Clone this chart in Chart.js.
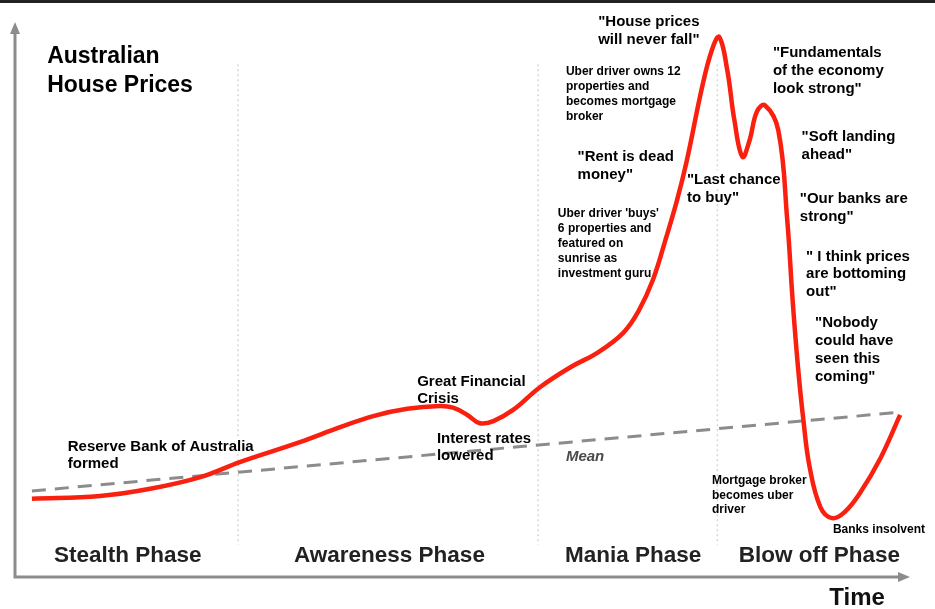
<html>
<head>
  <meta charset="UTF-8">
  <script src="https://cdn.jsdelivr.net/npm/chart.js"></script>
  <title>Australian House Prices</title>
  <style>
    html, body { margin: 0; padding: 0; background: #fff; overflow: hidden; }
    #topbar { position: absolute; left: 0; top: 0; width: 935px; height: 3px; background: #222; }
  </style>
</head>
<body>
<div id="topbar"></div>
<canvas id="bubble" width="935" height="609"></canvas>

<script>
  // time (0-100) and price index (0-100)
  const timeX  = [2.0, 9.6, 15.2, 20.8, 25.2, 31.9, 36.4, 40.1, 43.9, 47.5, 49.0, 50.6, 52.0, 53.5, 55.7, 58.7,
                  62.1, 65.1, 68.0, 69.7, 71.3, 72.7, 74.0, 75.1, 76.8, 77.9, 78.7, 79.6, 80.4, 81.3, 82.1,
                  82.9, 83.8, 85.3, 86.3, 86.9, 87.5, 88.1, 88.8, 90.0, 91.3, 92.7, 94.4, 96.7, 98.9];
  const priceY = [14.1, 14.6, 15.9, 18.0, 20.7, 24.3, 27.0, 29.0, 30.3, 30.8, 30.5, 29.2, 27.7, 28.1, 30.1, 34.2,
                  37.8, 40.4, 44.0, 47.9, 53.5, 60.7, 67.9, 75.1, 88.3, 95.0, 97.3, 91.4, 82.3, 75.7, 78.7,
                  83.8, 85.0, 80.5, 64.3, 49.9, 37.8, 28.3, 19.8, 12.6, 10.6, 11.7, 15.1, 21.4, 29.2];
  const meanX = [2.0, 98.9];
  const meanY = [15.5, 29.7];

  const phaseNames   = ['Stealth Phase', 'Awareness Phase', 'Mania Phase', 'Blow off Phase'];
  const phaseCenters = [12.7, 41.9, 69.1, 89.9];
  const phaseBreaks  = [25.0, 58.5, 78.5];

  // annotations: left x, first line centre y (data units)
  const notes = [
    {lines: ['Reserve Bank of Australia', 'formed'], x: 6.0, y: 23.4, size: 15, lh: 17, bg: true},
    {lines: ['Great Financial', 'Crisis'], x: 45.0, y: 35.1, size: 15, lh: 17},
    {lines: ['Interest rates', 'lowered'], x: 47.2, y: 24.9, size: 15, lh: 17},
    {lines: ['Uber driver owns 12', 'properties and', 'becomes mortgage', 'broker'], x: 61.6, y: 91.0, size: 12, lh: 15},
    {lines: ["Uber driver 'buys'", '6 properties and', 'featured on', 'sunrise as', 'investment guru'], x: 60.7, y: 65.4, size: 12, lh: 15},
    {lines: ['"Rent is dead', 'money"'], x: 62.9, y: 75.7, size: 15, lh: 18},
    {lines: ['"House prices', 'will never fall"'], x: 65.2, y: 100.0, size: 15, lh: 18},
    {lines: ['"Fundamentals', 'of the economy', 'look strong"'], x: 84.7, y: 94.4, size: 15, lh: 18},
    {lines: ['"Soft landing', 'ahead"'], x: 87.9, y: 79.3, size: 15, lh: 18},
    {lines: ['"Last chance', 'to buy"'], x: 75.1, y: 71.5, size: 15, lh: 18, bg: true},
    {lines: ['"Our banks are', 'strong"'], x: 87.7, y: 68.1, size: 15, lh: 18},
    {lines: ['" I think prices', 'are bottoming', 'out"'], x: 88.4, y: 57.7, size: 15, lh: 17.5},
    {lines: ['"Nobody', 'could have', 'seen this', 'coming"'], x: 89.4, y: 45.8, size: 15, lh: 18},
    {lines: ['Mortgage broker', 'becomes uber', 'driver'], x: 77.9, y: 17.3, size: 12, lh: 14.5},
    {lines: ['Banks insolvent'], x: 91.4, y: 8.6, size: 12, lh: 15}
  ];

  const FONT = '"Liberation Sans", Arial, sans-serif';

  const decor = {
    id: 'decor',
    beforeDatasetsDraw(chart) {
      const ctx = chart.ctx, xs = chart.scales.x, ys = chart.scales.y, a = chart.chartArea;
      ctx.save();
      // phase dividers
      ctx.strokeStyle = '#d6d6d6';
      ctx.lineWidth = 1.5;
      ctx.setLineDash([2, 3]);
      phaseBreaks.forEach(v => {
        const px = xs.getPixelForValue(v);
        ctx.beginPath();
        ctx.moveTo(px, ys.getPixelForValue(92.4));
        ctx.lineTo(px, ys.getPixelForValue(5.8));
        ctx.stroke();
      });
      ctx.setLineDash([]);
      // white boxes behind some notes
      notes.filter(n => n.bg).forEach(n => {
        ctx.font = 'bold ' + n.size + 'px ' + FONT;
        const w = Math.max(...n.lines.map(l => ctx.measureText(l).width));
        const x0 = xs.getPixelForValue(n.x), y0 = ys.getPixelForValue(n.y);
        ctx.fillStyle = '#fff';
        ctx.fillRect(x0 - 3, y0 - n.size * 0.65, w + 6, n.size * 1.1);
      });
      // axes with arrows
      ctx.strokeStyle = '#8c8c8c';
      ctx.fillStyle = '#8c8c8c';
      ctx.lineWidth = 3;
      ctx.beginPath();
      ctx.moveTo(a.left + 1, a.top + 8);
      ctx.lineTo(a.left + 1, a.bottom);
      ctx.lineTo(a.right - 8, a.bottom);
      ctx.stroke();
      ctx.beginPath();
      ctx.moveTo(a.left + 1, a.top);
      ctx.lineTo(a.left - 4, a.top + 12);
      ctx.lineTo(a.left + 6, a.top + 12);
      ctx.closePath();
      ctx.fill();
      ctx.beginPath();
      ctx.moveTo(a.right, a.bottom);
      ctx.lineTo(a.right - 12, a.bottom - 5);
      ctx.lineTo(a.right - 12, a.bottom + 5);
      ctx.closePath();
      ctx.fill();
      ctx.restore();
    },
    afterDatasetsDraw(chart) {
      const ctx = chart.ctx, xs = chart.scales.x, ys = chart.scales.y;
      ctx.save();
      ctx.textBaseline = 'middle';
      // title
      ctx.fillStyle = '#000';
      ctx.textAlign = 'left';
      ctx.font = 'bold 23px ' + FONT;
      ctx.fillText('Australian', xs.getPixelForValue(3.7), ys.getPixelForValue(93.7));
      ctx.fillText('House Prices', xs.getPixelForValue(3.7), ys.getPixelForValue(93.7) + 29);
      // notes
      notes.forEach(n => {
        ctx.font = 'bold ' + n.size + 'px ' + FONT;
        const x0 = xs.getPixelForValue(n.x), y0 = ys.getPixelForValue(n.y);
        n.lines.forEach((l, i) => ctx.fillText(l, x0, y0 + i * n.lh));
      });
      // mean label
      ctx.fillStyle = '#4a4a4a';
      ctx.font = 'italic bold 15px ' + FONT;
      ctx.fillText('Mean', xs.getPixelForValue(61.6), ys.getPixelForValue(21.6));
      // phases
      ctx.fillStyle = '#222';
      ctx.textAlign = 'center';
      ctx.font = 'bold 22.5px ' + FONT;
      phaseNames.forEach((p, i) => ctx.fillText(p, xs.getPixelForValue(phaseCenters[i]), ys.getPixelForValue(3.8)));
      ctx.font = 'bold 24px ' + FONT;
      ctx.fillStyle = '#111';
      ctx.fillText('Time', xs.getPixelForValue(94.1), ys.getPixelForValue(-3.8));
      ctx.restore();
    }
  };

  const ctx = document.getElementById('bubble').getContext('2d');
  new Chart(ctx, {
    type: 'line',
    data: {
      datasets: [
        {
          label: 'House prices',
          data: timeX.map((x, i) => ({x: x, y: priceY[i]})),
          borderColor: 'rgb(250,32,16)',
          borderWidth: 4.5,
          pointRadius: 0,
          tension: 0.4,
          order: 0
        },
        {
          label: 'Mean',
          data: meanX.map((x, i) => ({x: x, y: meanY[i]})),
          borderColor: '#8c8c8c',
          borderWidth: 3,
          borderDash: [14, 9],
          pointRadius: 0,
          order: 1
        }
      ]
    },
    options: {
      responsive: false,
      animation: false,
      layout: {padding: {left: 14, top: 22, right: 25, bottom: 32}},
      plugins: {legend: {display: false}, tooltip: {enabled: false}},
      scales: {
        x: {type: 'linear', min: 0, max: 100, display: false},
        y: {min: 0, max: 100, display: false}
      }
    },
    plugins: [decor]
  });
</script>
</body>
</html>
